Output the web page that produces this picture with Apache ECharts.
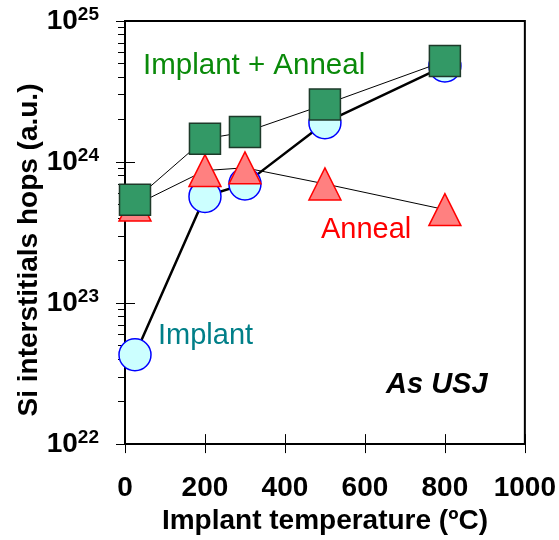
<!DOCTYPE html>
<html>
<head>
<meta charset="utf-8">
<script src="https://cdn.jsdelivr.net/npm/echarts@6/dist/echarts.min.js"></script>
<style>html,body{margin:0;padding:0;background:#fff}#c{width:559px;height:540px}</style>
</head>
<body>
<div id="c"></div>
<script>
// Data
const temps = [25, 200, 300, 500, 800];
const implant = [4.3e22, 5.7e23, 7.0e23, 1.9e24, 4.8e24];
const anneal = [4.95e23, 8.7e23, 9.1e23, 7.0e23, 4.6e23];
const implantAnneal = [5.4e23, 1.46e24, 1.63e24, 2.56e24, 5.2e24];
const xTicks = [0, 200, 400, 600, 800, 1000];
const yMajor = [1e22, 1e23, 1e24, 1e25];
const yMinor = [];
for (let d = 22; d < 25; d++) for (let m = 2; m <= 9; m++) yMinor.push(m * Math.pow(10, d));

const FONT = 'Liberation Sans';
const pairs = (xs, ys) => xs.map((x, i) => [x, ys[i]]);

const chart = echarts.init(document.getElementById('c'), null, {renderer: 'canvas'});
const yBase = {type: 'log', logBase: 10, min: 1e22, max: 1e25, position: 'left', splitLine: {show: false}};
chart.setOption({
  animation: false,
  grid: {left: 125, right: 34, top: 21, bottom: 94, show: true, borderColor: '#000', borderWidth: 2, backgroundColor: 'transparent'},
  xAxis: [
    {type: 'value', min: 0, max: 1000, interval: 200, position: 'bottom',
     axisLine: {onZero: false, lineStyle: {color: '#000', width: 2}},
     axisTick: {inside: true, length: 10, customValues: xTicks, lineStyle: {color: '#000', width: 1}},
     axisLabel: {margin: 30, customValues: xTicks, formatter: v => String(v), color: '#000', fontFamily: FONT, fontWeight: 'bold', fontSize: 28},
     splitLine: {show: false},
     name: 'Implant temperature (\u00baC)', nameLocation: 'middle', nameGap: 60,
     nameTextStyle: {color: '#000', fontFamily: FONT, fontWeight: 'bold', fontSize: 28}},
    {type: 'value', min: 0, max: 1000, interval: 200, position: 'bottom',
     axisLine: {show: false, onZero: false},
     axisTick: {inside: false, length: 9, customValues: xTicks, lineStyle: {color: '#000', width: 1}},
     axisLabel: {show: false}, splitLine: {show: false}}
  ],
  yAxis: [
    Object.assign({}, yBase, {
      axisLine: {lineStyle: {color: '#000', width: 2}},
      axisTick: {inside: true, length: 10, customValues: yMajor, lineStyle: {color: '#000', width: 1}},
      axisLabel: {margin: 26, customValues: yMajor, color: '#000',
        formatter: v => '{b|10}{s|' + Math.round(Math.log10(v)) + '}',
        rich: {
          b: {fontFamily: FONT, fontWeight: 'bold', fontSize: 28, color: '#000'},
          s: {fontFamily: FONT, fontWeight: 'bold', fontSize: 19, color: '#000', verticalAlign: 'top', padding: [0, 0, 12, 0]}
        }}
    }),
    Object.assign({}, yBase, {
      axisLine: {show: false},
      axisTick: {inside: false, length: 9, customValues: yMajor, lineStyle: {color: '#000', width: 1}},
      axisLabel: {show: false}
    }),
    Object.assign({}, yBase, {
      axisLine: {show: false},
      axisTick: {inside: false, length: 7, customValues: yMinor, lineStyle: {color: '#000', width: 1}},
      axisLabel: {show: false}
    })
  ],
  series: [
    {name: 'Implant', type: 'line', data: pairs(temps, implant), z: 2,
     lineStyle: {color: '#000', width: 2.5},
     symbol: 'circle', symbolSize: 32,
     itemStyle: {color: '#ccffff', borderColor: '#0000ff', borderWidth: 1.5}},
    {name: 'Anneal', type: 'line', data: pairs(temps, anneal), z: 3,
     lineStyle: {color: '#000', width: 1},
     symbol: 'triangle', symbolSize: 32,
     itemStyle: {color: '#ff8080', borderColor: '#ff0000', borderWidth: 1.5}},
    {name: 'Implant + Anneal', type: 'line', data: pairs(temps, implantAnneal), z: 4,
     lineStyle: {color: '#000', width: 1},
     symbol: 'rect', symbolSize: 31,
     itemStyle: {color: '#339966', borderColor: '#1e3a2a', borderWidth: 1.5}}
  ],
  graphic: [
    {type: 'text', x: 143, y: 66, z: 10, style: {text: 'Implant + Anneal', fill: '#0a8a0a', font: '29.5px "Liberation Sans"', align: 'left', verticalAlign: 'middle'}},
    {type: 'text', x: 321, y: 230, z: 10, style: {text: 'Anneal', fill: '#ff0000', font: '29px "Liberation Sans"', align: 'left', verticalAlign: 'middle'}},
    {type: 'text', x: 158, y: 336, z: 10, style: {text: 'Implant', fill: '#007f88', font: '29px "Liberation Sans"', align: 'left', verticalAlign: 'middle'}},
    {type: 'text', x: 386, y: 385, z: 10, style: {text: 'As USJ', fill: '#000', font: 'italic bold 29px "Liberation Sans"', align: 'left', verticalAlign: 'middle'}},
    {type: 'text', x: 29, y: 250, rotation: Math.PI / 2, z: 10, style: {text: 'Si interstitials hops (a.u.)', fill: '#000', font: 'bold 28px "Liberation Sans"', align: 'center', verticalAlign: 'middle'}}
  ]
});
</script>
</body>
</html>
